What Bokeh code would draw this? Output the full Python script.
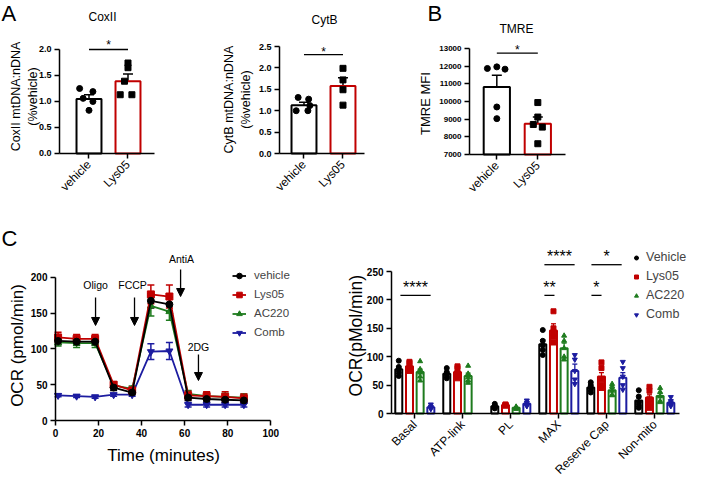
import numpy as np
from math import pi
from bokeh.plotting import figure
from bokeh.models import (ColumnDataSource, Whisker, TeeHead, Label, Arrow, NormalHead,
                          Legend, LegendItem, FixedTicker, Range1d, NumeralTickFormatter)
from bokeh.layouts import row, column
from bokeh.embed import file_html
from bokeh.resources import INLINE
from bokeh.core.properties import value

FONT = "Liberation Sans"
RED = "#C00000"
GREEN = "#1E7B1E"
BLUE = "#1C1CA0"

# ---------------- data: panel A / B ----------------
groups_ab = ["vehicle", "Lys05"]

coxii_mean = [1.05, 1.39]
coxii_sem = [0.08, 0.14]
coxii_vehicle_pts = [1.25, 1.19, 1.06, 1.00, 0.83]
coxii_lys05_pts = [1.74, 1.65, 1.39, 1.13, 1.13]

cytb_mean = [1.13, 1.58]
cytb_sem = [0.07, 0.19]
cytb_vehicle_pts = [1.31, 1.27, 1.12, 1.00, 1.00]
cytb_lys05_pts = [1.99, 1.72, 1.49, 1.13]

tmre_mean = [10820, 8740]
tmre_sem = [660, 380]
tmre_vehicle_pts = [11870, 11960, 11830, 9690, 9030]
tmre_lys05_pts = [9940, 9120, 8700, 8550, 7610]

# ---------------- data: panel C (time course) ----------------
time_min = [1.2, 9.8, 18.4, 27.0, 35.6, 44.3, 52.9, 61.6, 70.2, 78.8, 87.5]
ocr_vehicle = [111, 110, 110, 46, 39, 167, 162, 32, 30, 29, 28]
ocr_lys05 = [116, 114, 114, 50, 42, 176, 173, 35, 34, 33, 31]
ocr_ac220 = [109, 108, 108, 49, 44, 160, 152, 37, 34, 33, 32]
ocr_comb = [35, 34, 33, 36, 36, 96, 97, 22, 22, 22, 22]
err_vehicle = [5, 5, 5, 4, 3, 10, 10, 4, 4, 4, 4]
err_lys05 = [7, 6, 6, 4, 4, 13, 16, 6, 6, 7, 6]
err_ac220 = [5, 6, 6, 4, 4, 14, 12, 5, 5, 5, 5]
err_comb = [2, 2, 2, 2, 2, 11, 12, 3, 3, 3, 3]

injections = ["Oligo", "FCCP", "AntiA", "2DG"]
inject_time = [18.6, 36.7, 58.1, 66.4]

# ---------------- data: panel C (parameters) ----------------
params = ["Basal", "ATP-link", "PL", "MAX", "Reserve Cap", "Non-mito"]
series = ["Vehicle", "Lys05", "AC220", "Comb"]
par_mean = {
    "Vehicle": [78, 70, 13, 122, 46, 23],
    "Lys05":   [83, 73, 15, 146, 65, 28],
    "AC220":   [73, 66, 10, 115, 41, 31],
    "Comb":    [11, np.nan, 17, 75, 63, 19],
}
par_sem = {
    "Vehicle": [4, 3, 2, 8, 3, 4],
    "Lys05":   [4, 4, 1, 12, 7, 5],
    "AC220":   [5, 5, 1, 9, 3, 4],
    "Comb":    [2, np.nan, 3, 12, 9, 3],
}
par_points = {
    "Vehicle": [[93, 82, 78, 72, 66], [80, 73, 70, 65, 62], [17, 14, 12, 11, 9],
                [147, 128, 120, 112, 103], [55, 50, 46, 42, 37], [41, 30, 20, 14, 10]],
    "Lys05":   [[91, 89, 82, 78, 75], [83, 80, 72, 68, 62], [16, 15, 15, 14, 14],
                [180, 150, 140, 135, 125], [90, 80, 60, 50, 45], [47, 40, 25, 18, 10]],
    "AC220":   [[92, 78, 72, 65, 58], [84, 70, 64, 58, 54], [12, 11, 10, 9, 8],
                [137, 128, 115, 100, 95], [52, 48, 40, 33, 32], [45, 38, 30, 22, 20]],
    "Comb":    [[16, 12, 10, 9, 8], [], [23, 19, 16, 14, 13],
                [103, 95, 75, 60, 52], [91, 80, 65, 50, 42], [29, 22, 18, 15, 13]],
}
sig_x0 = [-0.30, 2.70, 2.70, 3.68, 3.68]
sig_x1 = [0.33, 3.33, 2.91, 4.31, 3.89]
sig_y = [208, 262, 208, 262, 208]
sig_text = ["****", "****", "**", "*", "*"]


def make_fig(w, h, xr, yr, x_axis_at, y_axis_at, xb, yb):
    p = figure(width=w, height=h, x_range=Range1d(*xr), y_range=Range1d(*yr),
               output_backend="svg", toolbar_location=None,
               min_border=0, min_border_left=0, min_border_right=0,
               min_border_top=0, min_border_bottom=0)
    p.xaxis.fixed_location = x_axis_at
    p.yaxis.fixed_location = y_axis_at
    p.xaxis.bounds = xb
    p.yaxis.bounds = yb
    p.xgrid.visible = False
    p.ygrid.visible = False
    p.outline_line_color = None
    p.background_fill_color = "white"
    p.border_fill_color = "white"
    return p


def style(p, tick_size):
    for ax in p.axis:
        ax.axis_line_width = 1.5
        ax.axis_line_color = "black"
        ax.major_tick_line_width = 1.5
        ax.major_tick_line_color = "black"
        ax.major_tick_out = 5
        ax.major_tick_in = 0
        ax.minor_tick_line_color = None
        ax.major_label_text_font = FONT
        ax.major_label_text_font_size = tick_size
        ax.major_label_text_font_style = "bold"
        ax.major_label_text_color = "black"
        ax.major_label_standoff = 3


def lab(p, x, y, text, size, angle=0.0, align="center", baseline="middle"):
    p.add_layout(Label(x=x, y=y, text=text, angle=angle, text_font=FONT,
                       text_font_size=size, text_align=align, text_baseline=baseline,
                       text_color="black"))


def cat_xaxis(p, labels, size="12px"):
    p.xaxis.ticker = FixedTicker(ticks=list(range(len(labels))))
    p.xaxis.major_label_overrides = {i: t for i, t in enumerate(labels)}
    p.xaxis.major_label_orientation = pi / 4
    p.xaxis.major_label_text_font_style = "normal"
    p.xaxis.major_label_text_font_size = size
    p.xaxis.major_label_standoff = 4


def ab_panel(width, xr, yr, x_axis_at, y_axis_at, xb, yb, yticks, fmt, tick_size,
             mean, sem, vpts, vjit, lpts, ljit, sig_line_y, star_y,
             title, title_xy, ylabel, ylabel_xy, ylabel_size, letter=None, letter_xy=None):
    p = make_fig(width, 222, xr, yr, x_axis_at, y_axis_at, xb, yb)
    style(p, tick_size)
    p.yaxis.ticker = FixedTicker(ticks=yticks)
    p.yaxis.formatter = NumeralTickFormatter(format=fmt)
    cat_xaxis(p, groups_ab)
    src = ColumnDataSource(dict(x=[0, 1], top=mean,
                                lo=[m - s for m, s in zip(mean, sem)],
                                hi=[m + s for m, s in zip(mean, sem)],
                                col=["black", RED]))
    p.vbar(x="x", top="top", bottom=yb[0], width=0.64, fill_color="white",
           line_color="col", line_width=2, source=src)
    p.add_layout(Whisker(base="x", upper="hi", lower="lo", source=src, line_color="black",
                         line_width=1.5,
                         upper_head=TeeHead(size=10, line_color="black", line_width=1.5),
                         lower_head=TeeHead(size=10, line_color="black", line_width=1.5)))
    p.scatter(x=[0 + j for j in vjit], y=vpts, marker="circle", size=6, color="black")
    p.scatter(x=[1 + j for j in ljit], y=lpts, marker="square", size=6, color="black")
    p.segment(x0=[0], y0=[sig_line_y], x1=[1], y1=[sig_line_y], line_color="black", line_width=1.3)
    p.text(x=[0.5], y=[star_y], text=["*"], text_font=value(FONT), text_font_size=value("12px"),
           text_align="center", text_baseline="middle", text_color="black")
    lab(p, title_xy[0], title_xy[1], title, "12px")
    lab(p, ylabel_xy[0], ylabel_xy[1], ylabel, ylabel_size, angle=pi / 2)
    if letter:
        lab(p, letter_xy[0], letter_xy[1], letter, "22px", align="left", baseline="top")
    return p


p1 = ab_panel(175, (-2.269, 2.218), (-1.327, 2.942), 0, -0.756, (-0.756, 1.680), (0, 2),
              [0, 0.5, 1, 1.5, 2], "0.0", "9px",
              coxii_mean, coxii_sem, coxii_vehicle_pts, [-0.24, 0.10, -0.15, 0.10, 0.0],
              coxii_lys05_pts, [0.0, 0.0, -0.09, -0.2, 0.1], 2.0, 2.08,
              "CoxII", (0.346, 2.62), "CoxII mtDNA:nDNA\n(%vehicle)", (-1.653, 1.096), "12.5px",
              "A", (-2.244, 2.933))

p2 = ab_panel(205, (-3.295, 1.962), (-1.612, 3.575), 0, -0.628, (-0.628, 1.551), (0, 2.5),
              [0, 0.5, 1, 1.5, 2, 2.5], "0.0", "9px",
              cytb_mean, cytb_sem, cytb_vehicle_pts, [-0.15, 0.12, 0.15, -0.2, 0.1],
              cytb_lys05_pts, [0, 0, 0, 0], 2.31, 2.365,
              "CytB", (0.526, 3.13), "CytB mtDNA:nDNA\n(%vehicle)", (-1.705, 1.26), "12.5px")

p3 = ab_panel(310, (-2.837, 4.724), (3151, 15717), 7000, -0.666, (-0.666, 1.675), (7000, 13000),
              [7000, 8000, 9000, 10000, 11000, 12000, 13000], "0", "8px",
              tmre_mean, tmre_sem, tmre_vehicle_pts, [-0.23, 0.0, 0.2, 0.0, 0.0],
              tmre_lys05_pts, [0.0, 0.0, -0.11, 0.11, 0.0], 12734, 12898,
              "TMRE", (0.48, 14103), "TMRE MFI", (-1.740, 9887), "13px",
              "B", (-1.690, 15688))

# ---------------- panel C: time course ----------------
p4 = make_fig(345, 259, (-25.55, 134.7), (-85.1, 276.3), 0, 0, (0, 100), (0, 200))
style(p4, "10px")
p4.xaxis.ticker = FixedTicker(ticks=[0, 20, 40, 60, 80, 100])
p4.yaxis.ticker = FixedTicker(ticks=[0, 50, 100, 150, 200])

line_series = [
    ("vehicle", ocr_vehicle, err_vehicle, "black", "circle"),
    ("Lys05", ocr_lys05, err_lys05, RED, "square"),
    ("AC220", ocr_ac220, err_ac220, GREEN, "triangle"),
    ("Comb", ocr_comb, err_comb, BLUE, "inverted_triangle"),
]
items = {}
for name, vals, err, col, mk in reversed(line_series):
    src = ColumnDataSource(dict(t=time_min, v=vals,
                                hi=[a + b for a, b in zip(vals, err)],
                                lo=[a - b for a, b in zip(vals, err)]))
    p4.add_layout(Whisker(base="t", upper="hi", lower="lo", source=src, line_color=col,
                          line_width=1.5,
                          upper_head=TeeHead(size=7, line_color=col, line_width=1.5),
                          lower_head=TeeHead(size=7, line_color=col, line_width=1.5)))
    r_l = p4.line("t", "v", source=src, line_color=col, line_width=1.8)
    r_s = p4.scatter("t", "v", source=src, marker=mk, size=7, color=col)
    items[name] = [r_l, r_s]
leg4 = Legend(items=[LegendItem(label=n, renderers=items[n]) for n, *_ in line_series],
              location=(232, 141.5), orientation="vertical", glyph_width=14, glyph_height=15,
              label_height=15, label_standoff=8, spacing=4, padding=0, margin=0,
              border_line_color=None, background_fill_alpha=0,
              label_text_font=FONT, label_text_font_size="11.5px")
p4.add_layout(leg4)

inj_label_y = [188.4, 188.4, 224.7, 101.9]
inj_arrow_y0 = [171.7, 171.7, 210.7, 92.0]
inj_arrow_y1 = [132.6, 132.6, 173.0, 55.8]
inj_label_dx = [0.0, -0.9, 0.4, 0.0]
for name, t, ly, a0, a1, dx in zip(injections, inject_time, inj_label_y, inj_arrow_y0, inj_arrow_y1, inj_label_dx):
    lab(p4, t + dx, ly, name, "10.5px")
    p4.add_layout(Arrow(x_start=t, y_start=a0, x_end=t, y_end=a1, line_color="black", line_width=1.3,
                        end=NormalHead(size=8, fill_color="black", line_color="black")))
lab(p4, -17.6, 104.7, "OCR (pmol/min)", "17px", angle=pi / 2)
lab(p4, 50.2, -48.8, "Time (minutes)", "17px")
lab(p4, -25.1, 254, "C", "22px", align="left")

# ---------------- panel C: parameters ----------------
p5 = make_fig(345, 259, (-1.444, 5.744), (-119.7, 336.3), 0, -0.485, (-0.485, 5.51), (0, 250))
style(p5, "10px")
p5.yaxis.ticker = FixedTicker(ticks=[0, 50, 100, 150, 200, 250])
cat_xaxis(p5, params)

offsets = [-0.334, -0.111, 0.111, 0.334]
colors = ["black", RED, GREEN, BLUE]
markers = ["circle", "square", "triangle", "inverted_triangle"]
leg_items = []
for k, s in enumerate(series):
    m = np.array(par_mean[s], dtype=float)
    e = np.array(par_sem[s], dtype=float)
    ok = ~np.isnan(m)
    xs = np.arange(len(params))[ok] + offsets[k]
    src = ColumnDataSource(dict(x=xs, top=m[ok], hi=(m + e)[ok]))
    p5.vbar(x="x", top="top", bottom=0, width=0.146, fill_color="white",
            line_color=colors[k], line_width=2, source=src)
    p5.add_layout(Whisker(base="x", upper="hi", lower="top", source=src, line_color=colors[k],
                          line_width=1.3,
                          upper_head=TeeHead(size=5, line_color=colors[k], line_width=1.3),
                          lower_head=None))
    px, py = [], []
    for i, pts in enumerate(par_points[s]):
        px += [i + offsets[k]] * len(pts)
        py += pts
    r = p5.scatter(px, py, marker=markers[k], size=5, color=colors[k])
    leg_items.append(LegendItem(label=s, renderers=[r]))
leg5 = Legend(items=leg_items, location=(286, 159.5), orientation="vertical", glyph_width=10,
              glyph_height=15, label_height=15, label_standoff=5, spacing=4, padding=0, margin=0,
              border_line_color=None, background_fill_alpha=0,
              label_text_font=FONT, label_text_font_size="12.5px")
p5.add_layout(leg5)

p5.segment(x0=sig_x0, y0=sig_y, x1=sig_x1, y1=sig_y, line_color="black", line_width=1.3)
p5.text(x=[(a + b) / 2 for a, b in zip(sig_x0, sig_x1)], y=[v + 14 for v in sig_y], text=sig_text,
        text_font=value(FONT), text_font_size=value("16px"), text_align="center",
        text_baseline="middle", text_color="black")
lab(p5, -1.235, 137, "OCR(pMol/min)", "17.5px", angle=pi / 2)

layout = column(row(p1, p2, p3, spacing=0), row(p4, p5, spacing=0), spacing=0)
open("out.html", "w").write(file_html(layout, INLINE))
